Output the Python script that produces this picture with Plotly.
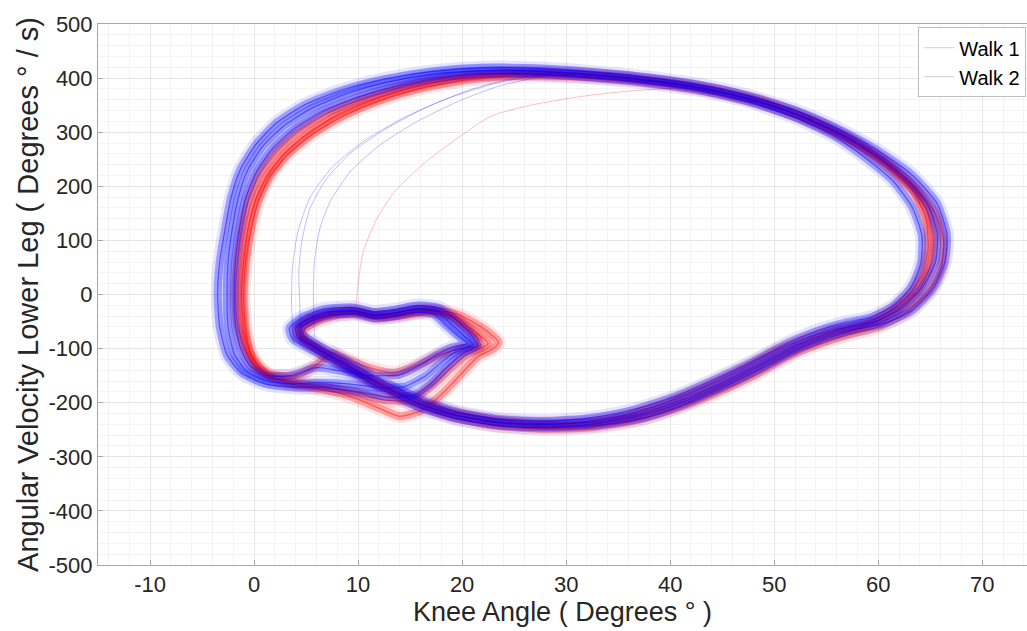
import plotly.graph_objects as go

# ---------------- data ----------------
walk_names = ["Walk 1", "Walk 2"]
x_ticks = [-10, 0, 10, 20, 30, 40, 50, 60, 70]
y_ticks = [-500, -400, -300, -200, -100, 0, 100, 200, 300, 400, 500]

# Walk 1 (red) cycles
w1_c1_x = [23, 21.5, 20, 18, 16, 14, 12, 9.5, 6.5, 3.5, 1, -0.4, -1, -1.2, -1, -0.6, 0.1, 1.3, 3, 5.2, 8, 11.5, 15.5, 19.5, 24, 29, 34, 39, 44, 49, 53.5, 57.5, 60.8, 63.6, 65.5, 66.3, 66, 64.8, 62.6, 60, 57.2, 54.5, 51.4, 48, 44.4, 40.4, 36.4, 32, 27.5, 23, 19, 15.5, 12, 8.8, 6.2, 4.8, 4.8, 6, 8, 10.3, 12.3, 14.5, 17, 19.5, 22, 23.5, 23]
w1_c1_y = [-100, -115, -145, -185, -215, -225, -210, -190, -175, -165, -145, -105, -60, 0, 60, 120, 172, 220, 262, 298, 332, 360, 384, 399, 407, 408, 403, 393, 378, 355, 323, 286, 245, 198, 150, 98, 46, 4, -34, -60, -74, -90, -114, -150, -182, -212, -234, -246, -248, -242, -226, -203, -170, -134, -104, -84, -66, -50, -38, -34, -42, -38, -30, -36, -62, -88, -100]

w1_c2_x = [22, 20.5, 19, 17, 15, 12.5, 10, 7, 4.5, 2, 0.2, -0.9, -1.6, -1.8, -1.6, -1.2, -0.5, 0.6, 2.2, 4.3, 7.1, 10.6, 14.6, 18.8, 23.5, 28.5, 33.5, 38.5, 43.5, 48.5, 53, 57, 60.3, 63, 64.7, 65.3, 65, 63.9, 61.8, 59.3, 56.7, 54, 51, 47.5, 44, 40, 36, 32, 27.5, 23, 19, 15.5, 12, 8.8, 6, 4.5, 4.4, 5.5, 7.3, 9.7, 11.8, 14, 16.5, 19, 21.3, 22.5, 22]
w1_c2_y = [-98, -110, -135, -170, -195, -195, -182, -172, -165, -155, -135, -100, -55, 0, 60, 120, 176, 224, 265, 302, 335, 363, 386, 401, 409, 409, 404, 394, 380, 358, 326, 289, 248, 203, 155, 102, 52, 8, -28, -54, -68, -84, -108, -144, -176, -207, -229, -241, -242, -236, -221, -199, -165, -129, -98, -78, -62, -47, -35, -31, -40, -36, -30, -40, -70, -90, -98]

w1_c3_x = [21.5, 19.8, 17.8, 15.8, 13.5, 11, 9, 7.5, 6, 4, 1.5, 0, -0.6, -0.9, -1, -0.8, -0.3, 0.4, 1.5, 3.2, 5.5, 8.5, 12, 16, 20.5, 25, 30, 35, 40, 45, 50, 54.5, 58.3, 61.3, 63.5, 64.6, 64.8, 64.3, 63, 61, 58.6, 56, 53.5, 50.5, 47, 43.5, 39.5, 35.5, 31.5, 27, 22.5, 18.5, 15, 11.5, 8.5, 5.8, 4.3, 4.2, 5.2, 7, 9.3, 11.3, 13.3, 15.8, 18.3, 20.3, 21.5, 21.5]
w1_c3_y = [-95, -100, -112, -130, -145, -135, -120, -108, -130, -150, -148, -125, -90, -45, 0, 60, 118, 172, 218, 258, 295, 329, 358, 381, 397, 404, 404, 399, 389, 372, 347, 313, 274, 232, 187, 137, 87, 40, 0, -32, -55, -64, -78, -100, -136, -168, -200, -224, -236, -238, -230, -214, -190, -158, -124, -95, -76, -60, -46, -36, -32, -40, -36, -28, -34, -60, -82, -95]

w1_out_x = [9.8, 10, 10.5, 11.8, 13.5, 16.5, 20, 22.8, 26.6, 31.4, 36, 41]
w1_out_y = [-20, 20, 80, 140, 190, 245, 295, 330, 350, 366, 376, 382]

# Walk 2 (blue) cycles
w2_c1_x = [21.5, 20, 18.5, 17, 15.5, 13, 10, 7, 4, 1, -1.2, -2.6, -3.3, -3.5, -3.3, -2.8, -2.2, -1.3, 0.2, 2.2, 5, 8.5, 12.5, 17, 22, 27, 32, 37, 42, 47, 52, 56, 59.8, 63.2, 65.6, 66.6, 66.4, 65.3, 63.2, 60.5, 58, 55.5, 52.5, 49, 45.5, 41.5, 37.5, 33, 28, 23.5, 19.5, 16, 12.5, 9, 5.8, 3.7, 3.4, 4.6, 6.7, 9.5, 11.5, 13.5, 15.8, 18, 19.7, 21, 21.5]
w2_c1_y = [-95, -110, -135, -165, -185, -190, -180, -172, -172, -165, -145, -112, -60, 0, 60, 120, 180, 232, 278, 318, 352, 378, 398, 412, 419, 418, 412, 403, 390, 370, 341, 308, 268, 222, 170, 112, 60, 12, -30, -54, -64, -78, -100, -135, -168, -202, -228, -242, -246, -242, -230, -210, -178, -140, -106, -82, -62, -42, -27, -24, -32, -28, -20, -26, -52, -78, -95]

w2_c2_x = [21, 19.5, 18, 16.5, 14.5, 12, 9, 6, 3.5, 1, -0.8, -1.9, -2.5, -2.6, -2.5, -2.1, -1.5, -0.6, 0.9, 2.9, 5.6, 9, 13, 17.5, 22, 27, 32, 37, 42, 47, 52, 56, 59.5, 62.6, 64.8, 65.7, 65.5, 64.3, 62.3, 60, 57.5, 55, 52, 48.5, 45, 41, 37, 33, 28, 23.5, 19.5, 16, 12.5, 9, 6, 4.2, 4, 5.2, 7, 9.5, 11.5, 13.5, 15.5, 17.5, 19, 20.3, 21]
w2_c2_y = [-92, -105, -125, -150, -170, -172, -165, -163, -165, -158, -140, -110, -60, 0, 60, 120, 180, 230, 275, 312, 345, 372, 393, 408, 414, 413, 407, 398, 385, 364, 334, 300, 260, 215, 165, 110, 60, 15, -25, -48, -58, -72, -95, -130, -163, -196, -221, -235, -240, -236, -224, -203, -170, -132, -100, -78, -62, -45, -33, -30, -38, -34, -27, -30, -55, -78, -92]

w2_c3_x = [20.5, 19, 17.5, 16, 14, 11, 8, 6, 3.5, 1.2, -0.4, -1.3, -1.8, -1.9, -1.8, -1.4, -0.8, 0.2, 1.7, 3.7, 6.4, 9.9, 13.9, 18, 22.5, 27.5, 32.5, 37.5, 42.5, 47.5, 52, 55.8, 58.8, 61.5, 63.3, 64.2, 64.1, 63.2, 61.5, 59.3, 56.8, 54.3, 51.3, 47.8, 44.3, 40.3, 36.3, 32.3, 28, 23.5, 19.8, 16.3, 12.8, 9.3, 6.3, 4.7, 4.6, 5.8, 7.5, 9.8, 11.7, 13.7, 15.5, 17.2, 18.5, 19.8, 20.5]
w2_c3_y = [-90, -98, -112, -130, -148, -150, -140, -135, -150, -150, -132, -100, -55, 0, 60, 120, 178, 226, 268, 304, 337, 364, 386, 401, 408, 407, 401, 392, 379, 357, 327, 292, 252, 208, 160, 108, 58, 15, -20, -42, -52, -66, -90, -125, -157, -190, -214, -228, -234, -230, -218, -196, -163, -126, -95, -74, -60, -47, -38, -36, -44, -40, -33, -36, -58, -80, -90]

w2_out1_x = [4.5, 4.4, 4.3, 4.6, 5.4, 7, 9.5, 13, 17, 21, 25, 29]
w2_out1_y = [-90, -20, 40, 100, 160, 215, 265, 310, 350, 380, 400, 408]
w2_out2_x = [5.8, 5.7, 5.8, 6.3, 7.4, 9.3, 12, 15.5, 19.5, 23.5, 27.5, 31]
w2_out2_y = [-80, 0, 60, 120, 175, 228, 275, 318, 356, 385, 402, 408]
w2_out3_x = [3.8, 3.6, 3.7, 4.2, 5.4, 7.5, 10.5, 14.5, 19, 23.5, 28]
w2_out3_y = [-90, -10, 50, 115, 180, 235, 283, 328, 365, 392, 406]

# ---------------- figure ----------------
RED = "255,0,0"
BLUE = "0,0,255"

walk1 = [(w1_c1_x, w1_c1_y), (w1_c2_x, w1_c2_y), (w1_c3_x, w1_c3_y)]
walk1_out = [(w1_out_x, w1_out_y)]
walk2 = [(w2_c1_x, w2_c1_y), (w2_c2_x, w2_c2_y), (w2_c3_x, w2_c3_y)]
walk2_out = [(w2_out1_x, w2_out1_y), (w2_out2_x, w2_out2_y), (w2_out3_x, w2_out3_y)]

fig = go.Figure()


def add_cycles(cycles, outliers, rgb, group):
    layers = [(14, 0.10), (8, 0.30), (1.2, 0.5)]
    for w, a in layers:
        for cx, cy in cycles:
            fig.add_trace(go.Scatter(
                x=cx, y=cy, mode="lines", legendgroup=group, showlegend=False,
                line=dict(color=f"rgba({rgb},{a})", width=w, shape="spline", smoothing=0.6),
                hoverinfo="skip"))
    for cx, cy in outliers:
        fig.add_trace(go.Scatter(
            x=cx, y=cy, mode="lines", legendgroup=group, showlegend=False,
            line=dict(color=f"rgba({rgb},0.25)", width=1, shape="spline", smoothing=0.6),
            hoverinfo="skip"))


add_cycles(walk1, walk1_out, RED, walk_names[0])
add_cycles(walk2, walk2_out, BLUE, walk_names[1])

# legend entries
fig.add_trace(go.Scatter(x=[None], y=[None], mode="lines", name=walk_names[0],
                         line=dict(color="rgba(190,190,190,0.7)", width=1)))
fig.add_trace(go.Scatter(x=[None], y=[None], mode="lines", name=walk_names[1],
                         line=dict(color="rgba(190,190,190,0.7)", width=1)))

FONT = "Liberation Sans, Arial, Helvetica, sans-serif"
axis_font = dict(family=FONT, size=22, color="#262626")
fig.update_layout(
    width=1027, height=631,
    margin=dict(l=98, r=0, t=24, b=66, autoexpand=False),
    paper_bgcolor="white", plot_bgcolor="white",
    font=dict(family=FONT, color="#262626"),
    showlegend=True,
    legend=dict(x=0.883, y=0.994, xanchor="left", yanchor="top",
                bgcolor="white", bordercolor="#bdbdbd", borderwidth=1,
                font=dict(family=FONT, size=20, color="#000000"), tracegroupgap=0,
                itemwidth=30),
    xaxis=dict(
        range=[-15, 74.3], tickmode="array", tickvals=x_ticks,
        ticktext=[str(v) for v in x_ticks], tickfont=axis_font,
        showgrid=True, gridcolor="#e6e6e6", gridwidth=1,
        minor=dict(dtick=2, showgrid=True, gridcolor="#f4f4f4", gridwidth=1),
        zeroline=False, showline=True, linecolor="#a8a8a8", linewidth=1, mirror=True,
        ticks="inside", ticklen=5, tickcolor="#a8a8a8",
        title=dict(text="Knee Angle ( Degrees ° )", font=dict(family=FONT, size=27, color="#262626"), standoff=4),
    ),
    yaxis=dict(
        range=[-500, 500], tickmode="array", tickvals=y_ticks,
        ticktext=[str(v) for v in y_ticks], tickfont=axis_font,
        showgrid=True, gridcolor="#e6e6e6", gridwidth=1,
        minor=dict(dtick=20, showgrid=True, gridcolor="#f4f4f4", gridwidth=1),
        zeroline=False, showline=True, linecolor="#a8a8a8", linewidth=1, mirror=True,
        ticks="inside", ticklen=5, tickcolor="#a8a8a8",
        title=dict(text="Angular Velocity Lower Leg ( Degrees ° / s)", font=dict(family=FONT, size=29, color="#262626"), standoff=1),
    ),
)

fig.write_html("out.html")
